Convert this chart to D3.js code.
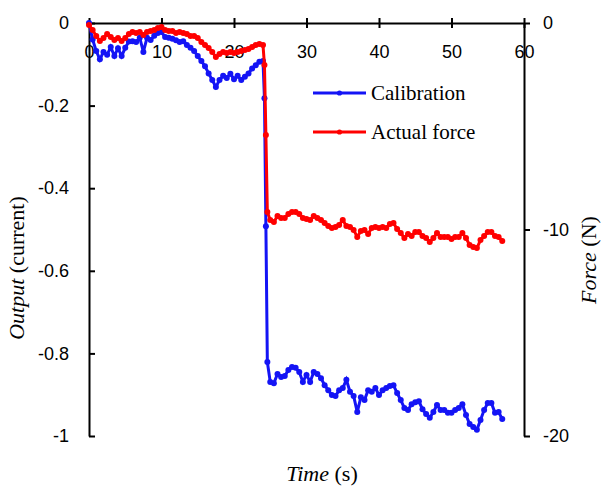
<!DOCTYPE html>
<html>
<head>
<meta charset="utf-8">
<script src="https://cdn.jsdelivr.net/npm/d3@7"></script>
<style>
  body { margin: 0; background: #fff; }
  svg { display: block; }
</style>
</head>
<body>
<svg id="chart" width="604" height="486"></svg>
<script>
// sample times (s), shared by both series
const times = [
  0, 0.5, 1, 1.5, 2, 2.5, 3, 3.5, 4, 4.5, 5, 5.5, 6, 6.5, 7, 7.5, 8, 8.5, 9, 9.5,
  10, 10.5, 11, 11.5, 12, 12.5, 13, 13.5, 14, 14.5, 15, 15.5, 16, 16.5, 17, 17.5,
  18, 18.5, 19, 19.5, 20, 20.5, 21, 21.5, 22, 22.5, 23, 23.5, 24, 24.2, 24.4, 24.6,
  25, 25.5, 26, 26.5, 27, 27.5, 28, 28.5, 29, 29.5, 30, 30.5, 31, 31.5, 32, 32.5,
  33, 33.5, 34, 34.5, 35, 35.5, 36, 36.5, 37, 37.5, 38, 38.5, 39, 39.5, 40, 40.5,
  41, 41.5, 42, 42.5, 43, 43.5, 44, 44.5, 45, 45.5, 46, 46.5, 47, 47.5, 48, 48.5,
  49, 49.5, 50, 50.5, 51, 51.5, 52, 52.5, 53, 53.5, 54, 54.5, 55, 55.5, 56, 56.5, 57
]

// Calibration output (left axis, current)
const calibration = [
  0, -0.040, -0.068, -0.088, -0.070, -0.077, -0.058, -0.080, -0.061, -0.080,
  -0.060, -0.045, -0.044, -0.046, -0.036, -0.070, -0.036, -0.041, -0.031, -0.024,
  -0.022, -0.034, -0.036, -0.038, -0.042, -0.046, -0.044, -0.053, -0.060, -0.068,
  -0.080, -0.092, -0.105, -0.122, -0.138, -0.155, -0.138, -0.128, -0.133, -0.123,
  -0.136, -0.128, -0.138, -0.130, -0.122, -0.110, -0.102, -0.094, -0.092,
  -0.182, -0.492, -0.821,
  -0.869, -0.872, -0.850, -0.857, -0.855, -0.840, -0.833, -0.835, -0.845, -0.869,
  -0.852, -0.869, -0.845, -0.850, -0.860, -0.877, -0.889, -0.901, -0.903, -0.889,
  -0.884, -0.864, -0.893, -0.903, -0.942, -0.906, -0.913, -0.889, -0.893, -0.884,
  -0.901, -0.889, -0.884, -0.879, -0.877, -0.896, -0.913, -0.932, -0.937, -0.923,
  -0.918, -0.916, -0.935, -0.947, -0.956, -0.942, -0.925, -0.937, -0.937, -0.944,
  -0.944, -0.937, -0.932, -0.923, -0.949, -0.971, -0.978, -0.985, -0.961, -0.937,
  -0.920, -0.920, -0.944, -0.942, -0.959
]

// Actual force (right axis, N)
const actualForce = [
  -0.10, -0.34, -0.63, -0.87, -0.73, -0.53, -0.68, -0.82, -0.73, -0.87,
  -0.73, -0.53, -0.44, -0.48, -0.44, -0.58, -0.44, -0.39, -0.34, -0.24,
  -0.19, -0.34, -0.39, -0.39, -0.48, -0.44, -0.48, -0.53, -0.63, -0.63,
  -0.73, -0.92, -1.07, -1.21, -1.40, -1.65, -1.50, -1.40, -1.45, -1.40,
  -1.45, -1.40, -1.36, -1.31, -1.26, -1.16, -1.07, -1.02, -1.07,
  -2.03, -5.42, -9.15,
  -9.54, -9.64, -9.35, -9.44, -9.44, -9.25, -9.15, -9.15, -9.25, -9.44,
  -9.49, -9.54, -9.35, -9.44, -9.54, -9.69, -9.83, -9.93, -9.88, -9.78,
  -9.54, -9.83, -9.88, -10.02, -10.36, -10.07, -10.02, -10.22, -9.93, -9.88,
  -9.93, -9.88, -9.93, -9.73, -9.69, -9.98, -10.17, -10.41, -10.22, -10.32,
  -10.12, -10.12, -10.32, -10.41, -10.61, -10.41, -10.17, -10.36, -10.36, -10.36,
  -10.46, -10.36, -10.36, -10.17, -10.41, -10.75, -10.85, -10.90, -10.51, -10.32,
  -10.12, -10.12, -10.32, -10.36, -10.56
]

const xTicks = [0, 10, 20, 30, 40, 50, 60]
const leftTicks = [0, -0.2, -0.4, -0.6, -0.8, -1]
const rightTicks = [0, -10, -20]
const legendItems = ["Calibration", "Actual force"]

const svg = d3.select("#chart")
const tickFont = "'Liberation Sans', Arial, sans-serif"
const serif = "'Liberation Serif', 'Times New Roman', serif"

const x = d3.scaleLinear().domain([0, 60]).range([89, 524])
const yL = d3.scaleLinear().domain([-1, 0]).range([436, 23])
const yR = d3.scaleLinear().domain([-20, 0]).range([436, 23])

// x axis sits on the zero line at the top, ticks cross it
const xAxisG = svg.append("g")
    .attr("transform", `translate(0,${yL(0)})`)
    .call(d3.axisBottom(x).tickValues(xTicks).tickSizeInner(5).tickSizeOuter(0).tickPadding(17))
xAxisG.selectAll(".tick line").attr("y1", -5)

const leftAxisG = svg.append("g")
    .attr("transform", `translate(${x(0)},0)`)
    .call(d3.axisLeft(yL).tickValues(leftTicks).tickSizeInner(-6).tickSizeOuter(0).tickPadding(20)
        .tickFormat(d => d === 0 ? "0" : d3.format("")(+d.toFixed(1))))

const rightAxisG = svg.append("g")
    .attr("transform", `translate(${x(60)},0)`)
    .call(d3.axisRight(yR).tickValues(rightTicks).tickSizeInner(6).tickSizeOuter(0).tickPadding(13))

svg.selectAll(".domain, .tick line")
    .attr("stroke", "#000")
    .attr("stroke-width", 2)
svg.selectAll(".tick text")
    .attr("font-family", tickFont)
    .attr("font-size", "18px")
    .attr("fill", "#000")
// d3 uses a unicode minus; the original shows hyphens
svg.selectAll(".tick text").text(function() { return d3.select(this).text().replace("\u2212", "-") })

// series
const calPts = times.map((t, i) => [x(t), yL(calibration[i])])
const forcePts = times.map((t, i) => [x(t), yR(actualForce[i])])

const series = [
    {pts: calPts, color: "#1414f5"},
    {pts: forcePts, color: "#ff0000"}
]

series.forEach(s => {
    svg.append("path")
        .attr("d", d3.line()(s.pts))
        .attr("fill", "none")
        .attr("stroke", s.color)
        .attr("stroke-width", 3)
    svg.append("g")
        .attr("fill", s.color)
        .selectAll("circle")
        .data(s.pts)
        .enter()
        .append("circle")
        .attr("cx", d => d[0])
        .attr("cy", d => d[1])
        .attr("r", 3)
})

// legend
const legend = svg.append("g")
legendItems.forEach((name, i) => {
    const ly = 93 + i * 39
    const c = series[i].color
    legend.append("line")
        .attr("x1", 313).attr("x2", 366)
        .attr("y1", ly).attr("y2", ly)
        .attr("stroke", c)
        .attr("stroke-width", 3)
    legend.append("circle")
        .attr("cx", 339.5).attr("cy", ly).attr("r", 2.6)
        .attr("fill", c)
    legend.append("text")
        .attr("x", 371)
        .attr("y", ly + 7)
        .attr("font-family", serif)
        .attr("font-size", "21px")
        .attr("fill", "#000")
        .text(name)
})

// axis titles
const leftTitle = svg.append("text")
    .attr("transform", "translate(24,268) rotate(-90)")
    .attr("text-anchor", "middle")
    .attr("font-family", serif)
    .attr("font-size", "22px")
leftTitle.append("tspan").attr("font-style", "italic").text("Output")
leftTitle.append("tspan").text(" (current)")

const rightTitle = svg.append("text")
    .attr("transform", "translate(596,260) rotate(-90)")
    .attr("text-anchor", "middle")
    .attr("font-family", serif)
    .attr("font-size", "22px")
rightTitle.append("tspan").attr("font-style", "italic").text("Force")
rightTitle.append("tspan").text("  (N)")

const bottomTitle = svg.append("text")
    .attr("x", 322)
    .attr("y", 481)
    .attr("text-anchor", "middle")
    .attr("font-family", serif)
    .attr("font-size", "22px")
bottomTitle.append("tspan").attr("font-style", "italic").text("Time")
bottomTitle.append("tspan").text(" (s)")
</script>
</body>
</html>
